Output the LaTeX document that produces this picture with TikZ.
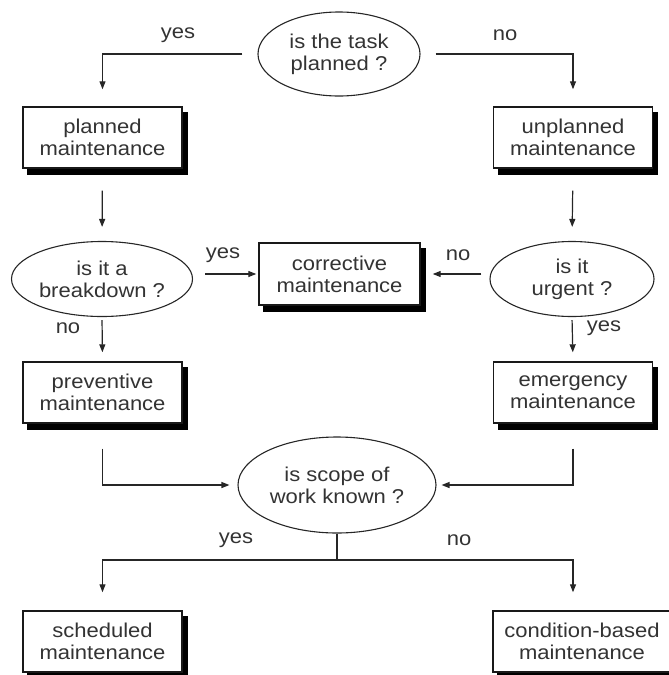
\documentclass[tikz,border=0pt]{standalone}
\usepackage{fontspec}
\setmainfont{Liberation Sans}[FakeStretch=1.1]
\usetikzlibrary{shapes.geometric,arrows.meta,backgrounds}

\begin{document}
\begin{tikzpicture}[x=1pt,y=-1pt]

        \useasboundingbox (0,0) rectangle (669,675);
        \clip (0,0) rectangle (669,675);

        % questions
        \begin{scope}[every node/.style={ellipse,draw=black!85,line width=1.1pt,inner sep=0pt,
            align=center,text=black!80,font=\fontsize{20}{22}\selectfont}]
          \node[minimum width=162pt,minimum height=84pt] (1) at (339,54)  {is the task\\planned ?};
          \node[minimum width=181pt,minimum height=75pt] (4) at (102,279) {is it a\\breakdown ?};
          \node[minimum width=164pt,minimum height=75pt] (6) at (572,279) {is it\\urgent ?};
          \node[minimum width=198pt,minimum height=96pt] (9) at (337,485) {is scope of\\work known ?};
        \end{scope}

        % kinds of maintenance
        \begin{scope}[every node/.style={draw=black!90,fill=white,line width=1.4pt,
            minimum width=159pt,minimum height=61pt,align=center,text=black!80,
            font=\fontsize{20}{22}\selectfont}]
          \node (2)  at (102.5,137.5) {planned\\maintenance};
          \node (3)  at (573,137.5)   {unplanned\\maintenance};
          \node[minimum width=161pt,minimum height=62pt] (5) at (339.5,274) {corrective\\maintenance};
          \node (7)  at (102.5,392.5) {preventive\\maintenance};
          \node (8)  at (573,392.5)   {emergency\\maintenance};
          \node (10) at (102.5,641.5) {scheduled\\maintenance};
          \node[minimum width=178pt] (11) at (582,641.5) {condition-based\\maintenance};
        \end{scope}

        % shadows of the boxes
        \begin{scope}[on background layer]
          \foreach \n in {2,3,5,7,8,10,11}
            \fill[black] ([shift={(5,6)}]\n.south west) rectangle ([shift={(5,6)}]\n.north east);
        \end{scope}

        % answers
        \begin{scope}[every node/.style={text=black!80,font=\fontsize{20}{22}\selectfont}]
          \node (l1) at (178,35)  {yes};
          \node (l2) at (505,35)  {no};
          \node (l3) at (223,255) {yes};
          \node (l4) at (458,255) {no};
          \node (l5) at (68,328)  {no};
          \node (l6) at (604,328) {yes};
          \node (l7) at (236,540) {yes};
          \node (l8) at (459,540) {no};
        \end{scope}

        \begin{scope}[draw=black!85,line width=1.2pt,>={Triangle[length=8pt,width=6pt]}]
          \draw[->,shorten <=15pt,shorten >=17pt] (1.west) -| (2.north);
          \draw[->,shorten <=15pt,shorten >=17pt] (1.east) -| (3.north);
          \draw[->,shorten <=22pt,shorten >=14pt] (2.south) -- (4.north);
          \draw[->,shorten <=22pt,shorten >=14pt] (3.south) -- (6.north);
          \draw[->,shorten <=12pt,shorten >=2pt]  (4.east |- 5.west) -- (5.west);
          \draw[->,shorten <=8pt,shorten >=12pt]  (6.west |- 5.east) -- (5.east);
          \draw[->,shorten <=3pt,shorten >=9pt]   (4.south) -- (7.north);
          \draw[->,shorten <=3pt,shorten >=9pt]   (6.south) -- (8.north);
          \draw[->,shorten <=25pt,shorten >=8pt]  (7.south) |- (9.west);
          \draw[->,shorten <=25pt,shorten >=5pt]  (8.south) |- (9.east);
          \coordinate (s) at (337,560);
          \draw (9.south) -- (s);
          \draw[->,shorten >=18pt] (s) -| (10.north);
          \draw[->,shorten >=18pt] (s) -| (8.south |- 11.north);
        \end{scope}

      \end{tikzpicture}
\end{document}
